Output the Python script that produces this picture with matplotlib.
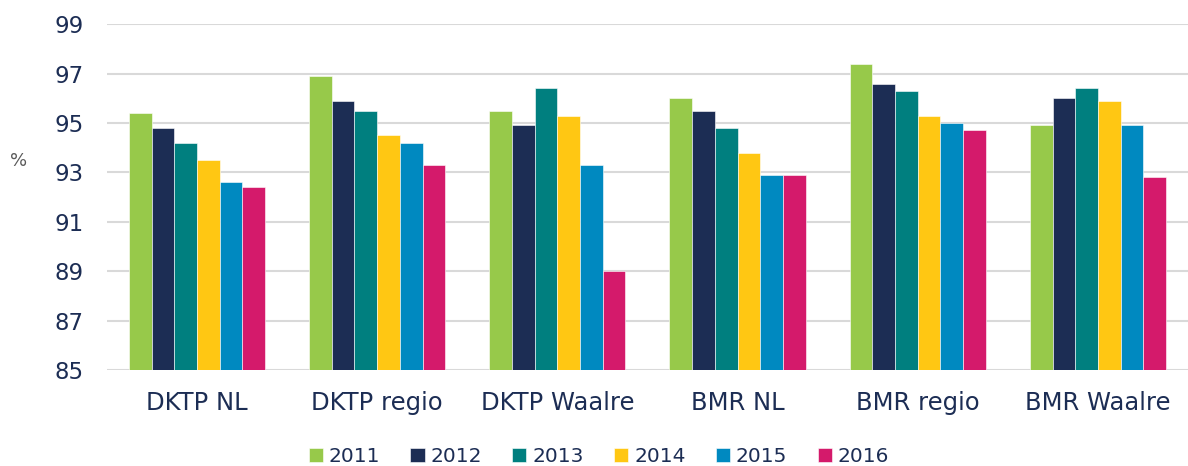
import matplotlib.pyplot as plt
import numpy as np

categories = ["DKTP NL", "DKTP regio", "DKTP Waalre", "BMR NL", "BMR regio", "BMR Waalre"]
years = ["2011", "2012", "2013", "2014", "2015", "2016"]
v2011 = [95.4, 96.9, 95.5, 96.0, 97.4, 94.9]
v2012 = [94.8, 95.9, 94.9, 95.5, 96.6, 96.0]
v2013 = [94.2, 95.5, 96.4, 94.8, 96.3, 96.4]
v2014 = [93.5, 94.5, 95.3, 93.8, 95.3, 95.9]
v2015 = [92.6, 94.2, 93.3, 92.9, 95.0, 94.9]
v2016 = [92.4, 93.3, 89.0, 92.9, 94.7, 92.8]
series = [v2011, v2012, v2013, v2014, v2015, v2016]
colors = ["#97C94A", "#1C2D54", "#007F7F", "#FFC713", "#0089C0", "#D41A6B"]

txt = "#1C2D54"
fig = plt.figure(figsize=(11.88, 4.66), dpi=100)
ax = fig.add_axes([0.09, 0.206, 0.91, 0.742])

x = np.arange(len(categories))
w = 0.126
for i, vals in enumerate(series):
    ax.bar(x + (i - 2.5) * w, [v - 85 for v in vals], width=w, bottom=85,
           color=colors[i], label=years[i], zorder=3, edgecolor="white", linewidth=0.4)

ax.set_ylim(85, 99)
ax.set_xlim(-0.5, len(categories) - 0.5)
ax.set_yticks(range(85, 100, 2))
ax.set_xticks(x)
ax.set_xticklabels(categories)
ax.grid(axis="y", color="#D9D9D9", linewidth=1.5, zorder=0)
ax.tick_params(axis="y", length=0, labelsize=16.5, labelcolor=txt, pad=17)
ax.tick_params(axis="x", length=0, labelsize=17.5, labelcolor=txt, pad=15)
for s in ax.spines.values():
    s.set_visible(False)

fig.text(0.008, 0.654, "%", fontsize=13, color="#595959", va="center")

ax.legend(loc="upper center", bbox_to_anchor=(0.455, -0.17), ncol=6, frameon=False,
          fontsize=14.5, labelcolor=txt, handlelength=0.7, handleheight=0.7,
          handletextpad=0.3, columnspacing=1.5)

plt.savefig("out.png", dpi=100)
